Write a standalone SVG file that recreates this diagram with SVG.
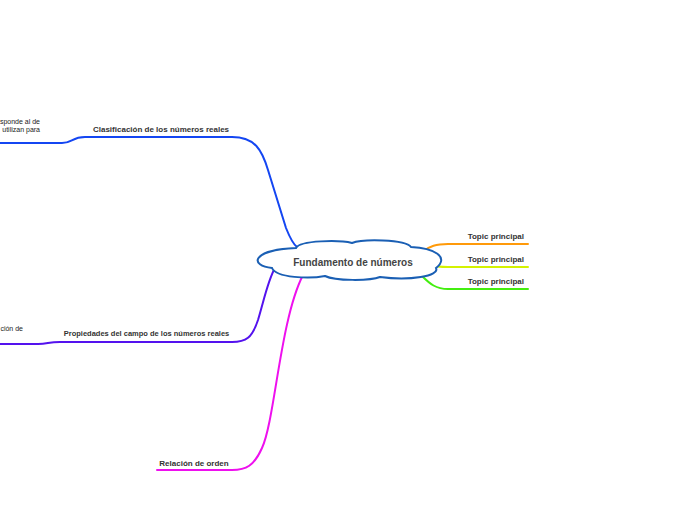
<svg xmlns="http://www.w3.org/2000/svg" width="696" height="520" viewBox="0 0 696 520">
<style>
.c{fill:none;stroke-width:2;stroke-linecap:round}
.t{font-family:"Liberation Sans",Arial,sans-serif;font-weight:bold;font-size:8px;fill:#333}
.n{font-family:"Liberation Sans",Arial,sans-serif;font-size:7px;fill:#222}
</style>
<rect width="696" height="520" fill="#fff"/>
<g id="connectors">
<path class="c" stroke="#1446f2" d="M297 247 C293 244 290 238 286 228 L268 170 C262 150 255 137 232 137 L85 137 C72 137 72 143 62 143 L0 143"/>
<path class="c" stroke="#5412ee" d="M275 268 C268 280 264 300 258 320 C252 338 246 342 232 342 L60 342 C48 342 48 344 38 344 L0 344"/>
<path class="c" stroke="#ee10ee" d="M303 275 C280 320 275 420 262 448 C254 466 246 470 232 470 L157 470"/>
<path class="c" stroke="#ff9a0a" d="M422 252 C430 246 436 244 448 244 L528 244"/>
<path class="c" stroke="#d4f200" d="M432 265 C436 267 440 267 448 267 L528 267"/>
<path class="c" stroke="#44ee10" d="M422 276 C430 284 436 289 448 289 L528 289"/>
</g>
<g id="center">
<path d="M296 248 C300 240 340 240 352 243 C362 239 405 239 411 247 C434 248 450 257 436 268 C440 276 410 281 380 277 C370 281 335 281 325 276 C310 279 276 278 272 268 C250 266 250 250 296 248 Z" fill="#fff" stroke="#1a5fb4" stroke-width="2"/>
<text x="353" y="265.5" text-anchor="middle" font-family="Liberation Sans,Arial,sans-serif" font-weight="bold" font-size="10" fill="#444">Fundamento de números</text>
</g>
<g id="n1">
<text class="t" x="161" y="132" text-anchor="middle">Clasificación de los números reales</text>
</g>
<g id="n1a">
<text class="n" x="40" y="124" text-anchor="end">sponde al de</text>
<text class="n" x="40" y="132" text-anchor="end">utilizan para</text>
</g>
<g id="n2">
<text class="t" x="146.5" y="336" text-anchor="middle" style="font-size:7.5px">Propiedades del campo de los números reales</text>
</g>
<g id="n2a">
<text class="n" x="23" y="331" text-anchor="end">ción de</text>
</g>
<g id="n3">
<text class="t" x="194" y="466" text-anchor="middle">Relación de orden</text>
</g>
<g id="t1"><text class="t" x="524" y="239" text-anchor="end">Topic principal</text></g>
<g id="t2"><text class="t" x="524" y="262" text-anchor="end">Topic principal</text></g>
<g id="t3"><text class="t" x="524" y="284" text-anchor="end">Topic principal</text></g>
</svg>
